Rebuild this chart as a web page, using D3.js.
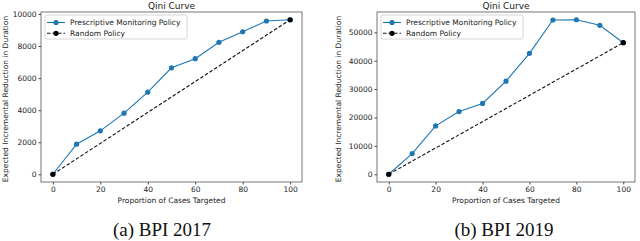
<!DOCTYPE html>
<meta charset="utf-8">
<style>
body { margin: 0; background: #fff; }
text { font-family: "DejaVu Sans", sans-serif; }
</style>
<body>
<script src="https://d3js.org/d3.v7.min.js"></script>
<script>

var width = 640,
    height = 241;

var proportions = [0, 10, 20, 30, 40, 50, 60, 70, 80, 90, 100];
var bpi2017 = [0, 1875, 2710, 3810, 5120, 6640, 7210, 8230, 8890, 9560, 9640];
var bpi2019 = [0, 7300, 17050, 22100, 24950, 32800, 42600, 54350, 54450, 52480, 46350];
var xTicks = [0, 20, 40, 60, 80, 100];
var yTicks2017 = [0, 2000, 4000, 6000, 8000, 10000];
var yTicks2019 = [0, 10000, 20000, 30000, 40000, 50000];
var captions = ["(a) BPI 2017", "(b) BPI 2019"];

var svg = d3.select("body").append("svg")
    .attr("width", width)
    .attr("height", height);

function panel(left, right, values, yTicks, caption, captionX, labelX) {
  var top = 12, bottom = 182;
  var last = values[values.length - 1];
  var ymax = d3.max(values), ymin = 0, pad = (ymax - ymin) * 0.05;

  var x = d3.scaleLinear().domain([-5, 105]).range([left, right]);
  var y = d3.scaleLinear().domain([ymin - pad, ymax + pad]).range([bottom, top]);

  var g = svg.append("g");

  g.append("g")
      .attr("transform", "translate(0," + bottom + ")")
      .call(d3.axisBottom(x).tickValues(xTicks).tickSize(2.5).tickPadding(2))
      .call(function(a) {
        a.select(".domain").remove();
        a.selectAll("text").attr("font-size", 7.5).attr("fill", "#222").attr("font-family", "DejaVu Sans");
        a.selectAll("line").attr("stroke", "#444");
      });

  g.append("g")
      .attr("transform", "translate(" + left + ",0)")
      .call(d3.axisLeft(y).tickValues(yTicks).tickFormat(d3.format("d")).tickSize(2.5).tickPadding(2))
      .call(function(a) {
        a.select(".domain").remove();
        a.selectAll("text").attr("font-size", 7.5).attr("fill", "#222").attr("font-family", "DejaVu Sans");
        a.selectAll("line").attr("stroke", "#444");
      });

  g.append("rect")
      .attr("x", left).attr("y", top)
      .attr("width", right - left).attr("height", bottom - top)
      .attr("fill", "none").attr("stroke", "#555").attr("stroke-width", 0.8);

  var line = d3.line().x(function(d, i) { return x(proportions[i]); }).y(function(d) { return y(d); });

  var randomLine = [0, last];
  g.append("path")
      .attr("d", d3.line().x(function(d, i) { return x(i ? 100 : 0); }).y(function(d) { return y(d); })(randomLine))
      .attr("fill", "none").attr("stroke", "#111").attr("stroke-width", 1.1)
      .attr("stroke-dasharray", "3.5,2");

  g.append("path")
      .attr("d", line(values))
      .attr("fill", "none").attr("stroke", "#1f77b4").attr("stroke-width", 1.1);

  g.selectAll(".pt").data(values).enter().append("circle")
      .attr("cx", function(d, i) { return x(proportions[i]); })
      .attr("cy", function(d) { return y(d); })
      .attr("r", 2.6).attr("fill", "#1f77b4");

  g.selectAll(".rp").data(randomLine).enter().append("circle")
      .attr("cx", function(d, i) { return x(i ? 100 : 0); })
      .attr("cy", function(d) { return y(d); })
      .attr("r", 2.6).attr("fill", "#000");

  // legend
  var lx = left + 4, ly = top + 3;
  g.append("rect")
      .attr("x", lx).attr("y", ly).attr("width", 142).attr("height", 24).attr("rx", 2)
      .attr("fill", "#fff").attr("fill-opacity", 0.8).attr("stroke", "#ccc").attr("stroke-width", 0.8);
  g.append("line").attr("x1", lx + 2).attr("x2", lx + 20).attr("y1", ly + 7.5).attr("y2", ly + 7.5)
      .attr("stroke", "#1f77b4").attr("stroke-width", 1.1);
  g.append("circle").attr("cx", lx + 11).attr("cy", ly + 7.5).attr("r", 2.6).attr("fill", "#1f77b4");
  g.append("line").attr("x1", lx + 2).attr("x2", lx + 20).attr("y1", ly + 18.3).attr("y2", ly + 18.3)
      .attr("stroke", "#111").attr("stroke-width", 1.1).attr("stroke-dasharray", "3.5,2");
  g.append("circle").attr("cx", lx + 11).attr("cy", ly + 18.3).attr("r", 2.6).attr("fill", "#000");
  g.append("text").attr("x", lx + 25).attr("y", ly + 10.2).attr("font-size", 7.5).attr("fill", "#222")
      .text("Prescriptive Monitoring Policy");
  g.append("text").attr("x", lx + 25).attr("y", ly + 21).attr("font-size", 7.5).attr("fill", "#222")
      .text("Random Policy");

  g.append("text")
      .attr("x", (left + right) / 2).attr("y", 9)
      .attr("text-anchor", "middle").attr("font-size", 9).attr("fill", "#222")
      .text("Qini Curve");

  g.append("text")
      .attr("x", (left + right) / 2).attr("y", 203)
      .attr("text-anchor", "middle").attr("font-size", 7.5).attr("fill", "#222")
      .text("Proportion of Cases Targeted");

  g.append("text")
      .attr("transform", "translate(" + labelX + "," + ((top + bottom) / 2 + 2) + ") rotate(-90)")
      .attr("text-anchor", "middle").attr("font-size", 7.5).attr("fill", "#222")
      .text("Expected Incremental Reduction in Duration");

  g.append("text")
      .attr("x", captionX).attr("y", 236)
      .attr("text-anchor", "middle").attr("font-size", 19).attr("fill", "#111")
      .style("font-family", "'Liberation Serif', 'Times New Roman', serif")
      .text(caption);
}

panel(41, 302, bpi2017, yTicks2017, captions[0], 162, 8);
panel(377, 635, bpi2019, yTicks2019, captions[1], 504, 341);

</script>
